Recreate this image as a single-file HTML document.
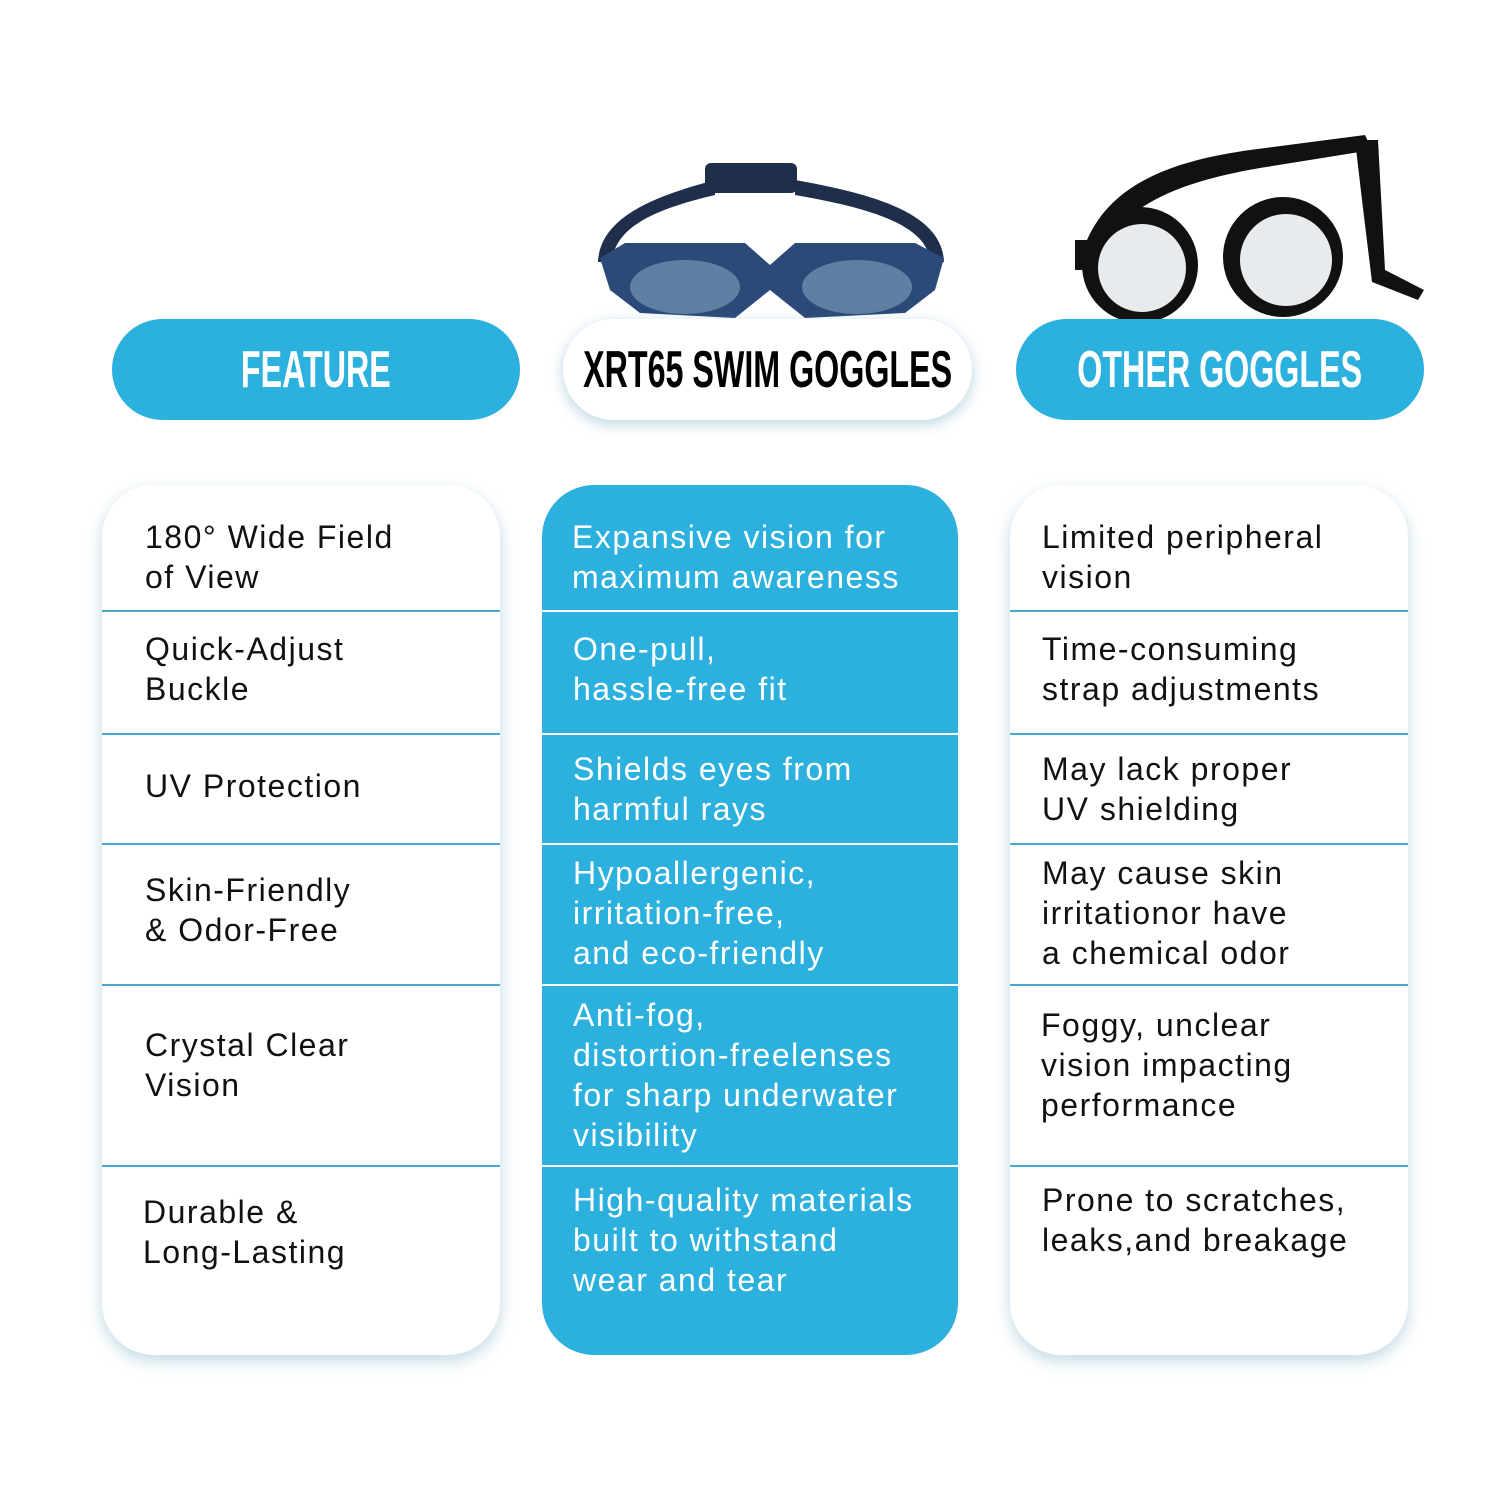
<!DOCTYPE html>
<html><head><meta charset="utf-8"><style>
*{margin:0;padding:0;box-sizing:border-box}
body{width:1500px;height:1500px;background:#fff;position:relative;overflow:hidden;font-family:"Liberation Sans",sans-serif}
.pill{position:absolute;top:319px;height:101px;border-radius:51px;display:flex;align-items:center;justify-content:center;white-space:nowrap}
.pill span{font-weight:bold;font-size:52px;display:inline-block;transform:scaleX(0.62);white-space:nowrap}
.card{position:absolute;top:485px;height:870px;border-radius:52px;overflow:hidden}
.w{background:#fff;box-shadow:0 6px 16px rgba(80,150,180,0.35)}
.b{background:#2cb0de}
.ln{position:absolute;left:0;right:0;height:2px}
.w .ln{background:#4aa9cf}
.b .ln{background:#fff}
.t{position:absolute;font-size:32px;line-height:40px;color:#111;white-space:nowrap;letter-spacing:1.5px}
.b .t{color:#fff}
</style></head><body>
<svg style="position:absolute;left:0;top:0" width="1500" height="330">
<!-- blue goggles -->
<path d="M598 262 C600 215 660 195 715 180 L715 195 C660 208 615 225 612 262 Z" fill="#1f2e4a"/>
<path d="M944 262 C942 215 880 195 795 180 L795 195 C870 208 928 225 930 262 Z" fill="#1f2e4a"/>
<rect x="705" y="163" width="92" height="30" rx="6" fill="#1f2e4a"/>
<path d="M600 258 L625 243 L745 243 L770 265 L795 243 L915 243 L944 258 L935 290 L905 313 L805 318 L770 290 L735 318 L640 313 L610 290 Z" fill="#2b4a78"/>
<ellipse cx="685" cy="287" rx="55" ry="27" fill="#5f7fa3"/>
<ellipse cx="857" cy="287" rx="55" ry="27" fill="#5f7fa3"/>
<!-- black goggles -->
<path d="M1085 245 C1110 180 1180 160 1250 150 L1365 135 L1372 150 L1260 168 C1190 180 1130 200 1100 250 Z" fill="#111"/>
<path d="M1355 140 L1378 140 L1385 270 L1424 290 L1418 300 L1372 282 L1362 200 Z" fill="#111"/>
<circle cx="1140" cy="265" r="58" fill="#111"/>
<circle cx="1142" cy="268" r="44" fill="#e8ebee"/>
<circle cx="1283" cy="257" r="60" fill="#111"/>
<circle cx="1286" cy="260" r="46" fill="#e8ebee"/>
<rect x="1075" y="240" width="18" height="30" fill="#111"/>
</svg>

<div class="pill" style="left:112px;width:408px;background:#2cb0de"><span style="color:#fff">FEATURE</span></div>
<div class="pill" style="left:563px;width:409px;background:#fff;box-shadow:0 4px 14px rgba(80,150,180,0.4)"><span style="color:#000">XRT65 SWIM GOGGLES</span></div>
<div class="pill" style="left:1016px;width:408px;background:#2cb0de"><span style="color:#fff">OTHER GOGGLES</span></div>

<div class="card w" style="left:102px;width:398px">
<div class="ln" style="top:125px"></div><div class="ln" style="top:248px"></div><div class="ln" style="top:358px"></div><div class="ln" style="top:499px"></div><div class="ln" style="top:680px"></div>
<div class="t" style="left:43px;top:32px">180° Wide Field<br>of View</div>
<div class="t" style="left:43px;top:144px">Quick-Adjust<br>Buckle</div>
<div class="t" style="left:43px;top:281px">UV Protection</div>
<div class="t" style="left:43px;top:385px">Skin-Friendly<br>&amp; Odor-Free</div>
<div class="t" style="left:43px;top:540px">Crystal Clear<br>Vision</div>
<div class="t" style="left:41px;top:707px">Durable &amp;<br>Long-Lasting</div>
</div>

<div class="card b" style="left:542px;width:416px">
<div class="ln" style="top:125px"></div><div class="ln" style="top:248px"></div><div class="ln" style="top:358px"></div><div class="ln" style="top:499px"></div><div class="ln" style="top:680px"></div>
<div class="t" style="left:30px;top:32px">Expansive vision for<br>maximum awareness</div>
<div class="t" style="left:31px;top:144px">One-pull,<br>hassle-free fit</div>
<div class="t" style="left:31px;top:264px">Shields eyes from<br>harmful rays</div>
<div class="t" style="left:31px;top:368px">Hypoallergenic,<br>irritation-free,<br>and eco-friendly</div>
<div class="t" style="left:31px;top:510px">Anti-fog,<br>distortion-freelenses<br>for sharp underwater<br>visibility</div>
<div class="t" style="left:31px;top:695px">High-quality materials<br>built to withstand<br>wear and tear</div>
</div>

<div class="card w" style="left:1010px;width:398px">
<div class="ln" style="top:125px"></div><div class="ln" style="top:248px"></div><div class="ln" style="top:358px"></div><div class="ln" style="top:499px"></div><div class="ln" style="top:680px"></div>
<div class="t" style="left:32px;top:32px">Limited peripheral<br>vision</div>
<div class="t" style="left:32px;top:144px">Time-consuming<br>strap adjustments</div>
<div class="t" style="left:32px;top:264px">May lack proper<br>UV shielding</div>
<div class="t" style="left:32px;top:368px">May cause skin<br>irritationor have<br>a chemical odor</div>
<div class="t" style="left:31px;top:520px">Foggy, unclear<br>vision impacting<br>performance</div>
<div class="t" style="left:32px;top:695px">Prone to scratches,<br>leaks,and breakage</div>
</div>
</body></html>
